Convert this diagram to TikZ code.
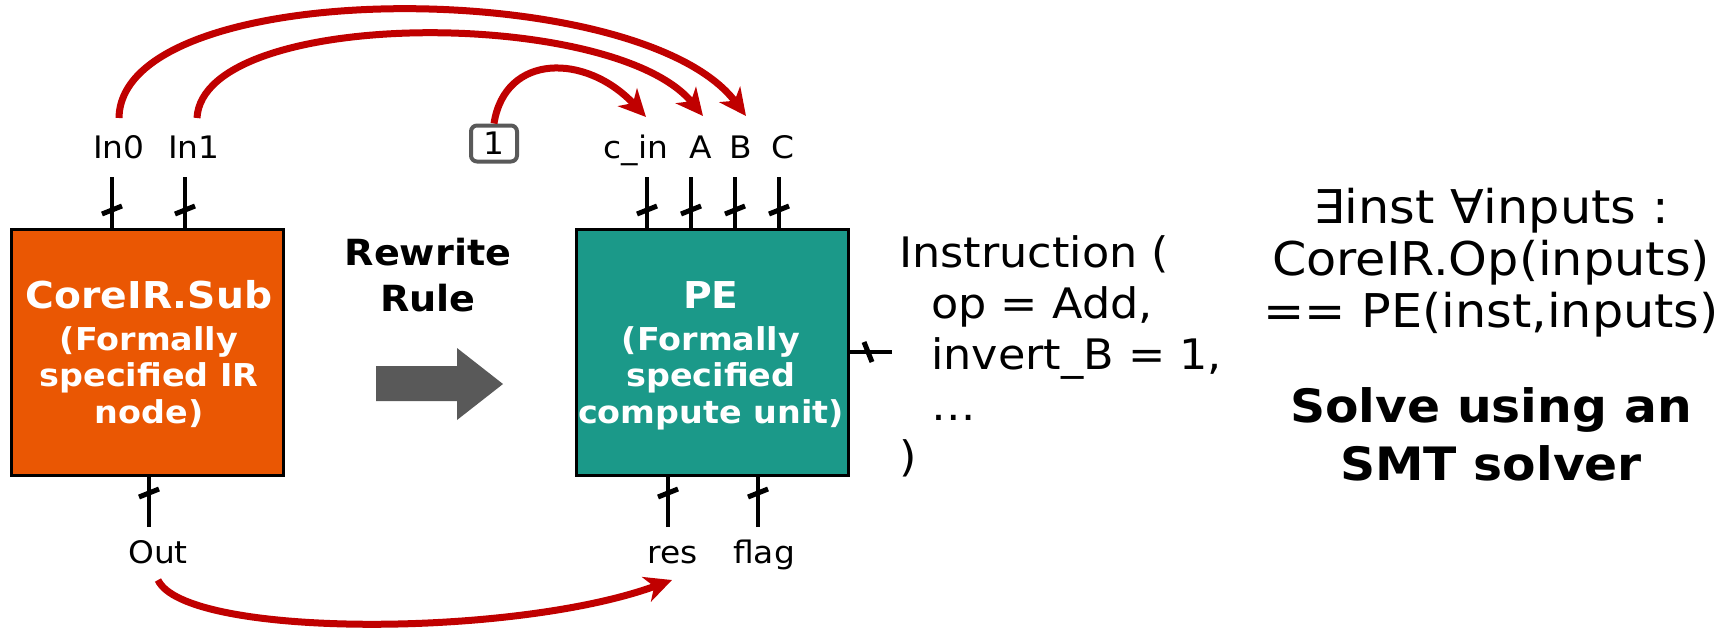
\documentclass[tikz,border=0pt]{standalone}
\usepackage{fontspec}
\setmainfont{DejaVu Sans}[FakeStretch=1.06]
\usetikzlibrary{arrows.meta}
\definecolor{orng}{RGB}{234,87,3}
\definecolor{pegreen}{RGB}{27,153,137}
\definecolor{darkred}{RGB}{192,0,0}
\definecolor{arrgray}{RGB}{89,89,89}
\tikzset{
  wire/.style={line width=4pt, black},
  redarr/.style={line width=7pt, darkred, -{Stealth[length=27pt,width=26pt,inset=8pt]}},
  lbl/.style={inner sep=0pt, anchor=base, font=\fontsize{31}{31}\selectfont},
  boxtitle/.style={inner sep=0pt, anchor=base, text=white, font=\fontsize{37}{37}\selectfont\bfseries},
  boxsub/.style={inner sep=0pt, anchor=base, text=white, font=\fontsize{31.5}{31.5}\selectfont\bfseries},
  codeline/.style={inner sep=0pt, anchor=base west, font=\fontsize{42}{42}\selectfont},
  eqline/.style={inner sep=0pt, anchor=base, font=\fontsize{46.5}{46.5}\selectfont},
  boldline/.style={inner sep=0pt, anchor=base, font=\fontsize{46}{46}\selectfont\bfseries},
  unitbox/.style={draw=black, line width=3pt, minimum width=272pt, minimum height=246pt, inner sep=0pt, anchor=north west},
  bustick/.pic={\draw[line width=5pt] (-10,4) -- (10,-4);}
}
\begin{document}
\begin{tikzpicture}[x=1pt,y=-1pt]
\useasboundingbox (0,0) rectangle (1729,630);

% boxes
\node[unitbox, fill=orng] (sub) at (10,228) {};
\node[unitbox, fill=pegreen] (pe) at (575,228) {};

% box texts
\node[boxtitle] (subt) at (149,308) {CoreIR.Sub};
\node[boxsub] (subl1) at (149,350) {(Formally};
\node[boxsub] (subl2) at (149,386) {specified IR};
\node[boxsub] (subl3) at (149,423) {node)};
\node[boxtitle] (pet) at (711,308) {PE};
\node[boxsub] (pel1) at (711,350) {(Formally};
\node[boxsub] (pel2) at (711,386) {specified};
\node[boxsub] (pel3) at (711,423) {compute unit)};

% labels
\node[lbl] (in0) at (119,158) {In0};
\node[lbl] (in1) at (194,158) {In1};
\node[lbl] (cin) at (636,158) {c\_in};
\node[lbl] (pa) at (701,158) {A};
\node[lbl] (pb) at (741,158) {B};
\node[lbl] (pc) at (783,158) {C};
\node[lbl] (out) at (158,563) {Out};
\node[lbl] (res) at (673,563) {res};
\node[lbl] (flag) at (764,563) {flag};
\node[draw=arrgray, line width=4pt, rounded corners=6pt, minimum width=46pt, minimum height=36pt, inner sep=0pt, font=\fontsize{31}{31}\selectfont] (one) at (494,143.5) {1};

% wires
\coordinate (w0) at (112,177);
\coordinate (w1) at (185,177);
\coordinate (wc) at (647,177);
\coordinate (wa) at (691,177);
\coordinate (wb) at (735,177);
\coordinate (wcc) at (779,177);
\coordinate (wo) at (149,527);
\coordinate (wr) at (668,527);
\coordinate (wf) at (758,527);
\coordinate (wi) at (892,352);
\foreach \w in {w0,w1}{\draw[wire] (\w) -- (\w |- sub.north);}
\foreach \w in {wc,wa,wb,wcc}{\draw[wire] (\w) -- (\w |- pe.north);}
\draw[wire] (wo) -- (wo |- sub.south);
\foreach \w in {wr,wf}{\draw[wire] (\w) -- (\w |- pe.south);}
\draw[wire] (wi) -- (wi -| pe.east);

% bus ticks
\foreach \x in {112,185,647,691,735,779}{\pic at (\x,210) {bustick};}
\foreach \x in {149,668,758}{\pic at (\x,493) {bustick};}
\pic[rotate=90] at (868,352) {bustick};

% red arrows
\coordinate (s0) at (119,118);
\coordinate (s1) at (197,118);
\coordinate (tb) at (746,116);
\coordinate (ta) at (703,116);
\coordinate (tc) at (646,117);
\coordinate (so) at (158,580);
\coordinate (tr) at (672,580);
\draw[redarr] (s0) .. controls (121,-25) and (640,-25) .. (tb);
\draw[redarr] (s1) .. controls (203,7) and (614,7) .. (ta);
\draw[redarr] (one.north) .. controls (505,53) and (586,53) .. (tc);
\draw[redarr] (so) .. controls (185,638) and (513,638) .. (tr);

% rewrite arrow
\node[inner sep=0pt, anchor=base, font=\fontsize{36}{36}\selectfont\bfseries] (rw1) at (428,265) {Rewrite};
\node[inner sep=0pt, anchor=base, font=\fontsize{36}{36}\selectfont\bfseries] (rw2) at (428,311) {Rule};
\fill[arrgray] (376,366) -- (457,366) -- (457,348) -- (503,384) -- (457,420) -- (457,401) -- (376,401) -- cycle;

% instruction
\node[codeline] (ins1) at (899,267) {Instruction (};
\node[codeline] (ins2) at (931,318) {op = Add,};
\node[codeline] (ins3) at (931,369) {invert\_B = 1,};
\node[codeline] (ins4) at (931,420) {…};
\node[codeline] (ins5) at (899,471) {)};

% formula
\node[eqline] (eq1) at (1491,223) {∃inst ∀inputs :};
\node[eqline] (eq2) at (1491,275) {CoreIR.Op(inputs)};
\node[eqline] (eq3) at (1491,327) {== PE(inst,inputs)};
\node[boldline] (sv1) at (1491,422) {Solve using an};
\node[boldline] (sv2) at (1491,480) {SMT solver};
\end{tikzpicture}
\end{document}
